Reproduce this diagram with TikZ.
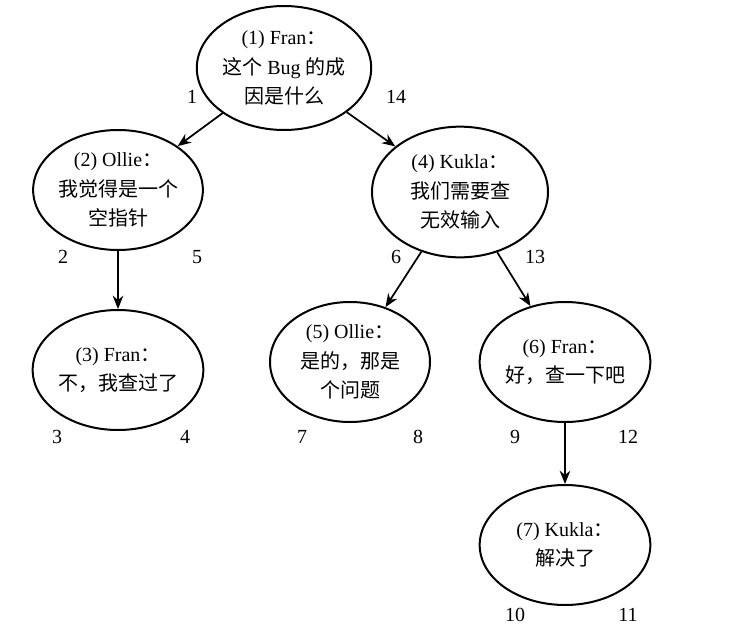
\documentclass[tikz,border=0pt]{standalone}
\usepackage{fontspec}
\setmainfont{Liberation Serif}
\newfontfamily\cjk{Noto Sans CJK SC}
\usetikzlibrary{shapes.geometric,arrows.meta}
\begin{document}
\begin{tikzpicture}[x=0.75pt,y=-0.75pt,
  el/.style={draw,ellipse,line width=1.5pt,align=center,font=\fontsize{15}{22}\selectfont,inner sep=0pt},
  num/.style={font=\fontsize{15}{16}\selectfont},
  arr/.style={line width=1.3pt,-{Stealth[length=10pt,width=8pt]}}]
\useasboundingbox (0,0) rectangle (732,632);
\node[el,minimum width=120pt,minimum height=93pt] (n1) at (284,68) {(1) Fran{\cjk ：}\\{\cjk 这个} Bug {\cjk 的成}\\{\cjk 因是什么}};
\node[el,minimum width=123pt,minimum height=90pt] (n2) at (118,190) {(2) Ollie{\cjk ：}\\{\cjk 我觉得是一个}\\{\cjk 空指针}};
\node[el,minimum width=128pt,minimum height=90pt] (n3) at (118,370) {(3) Fran{\cjk ：}\\{\cjk 不，我查过了}};
\node[el,minimum width=132pt,minimum height=98pt] (n4) at (460,192) {(4) Kukla{\cjk ：}\\{\cjk 我们需要查}\\{\cjk 无效输入}};
\node[el,minimum width=120pt,minimum height=90pt] (n5) at (350,362) {(5) Ollie{\cjk ：}\\{\cjk 是的，那是}\\{\cjk 个问题}};
\node[el,minimum width=128pt,minimum height=90pt] (n6) at (565,362) {(6) Fran{\cjk ：}\\{\cjk 好，查一下吧}};
\node[el,minimum width=128pt,minimum height=90pt] (n7) at (565,545) {(7) Kukla{\cjk ：}\\{\cjk 解决了}};
\draw[arr] (n1) -- (n2);
\draw[arr] (n1) -- (n4);
\draw[arr] (n2) -- (n3);
\draw[arr] (n4) -- (n5);
\draw[arr] (n4) -- (n6);
\draw[arr] (n6) -- (n7);
\node[num] (l1) at (192,97) {1};
\node[num] (l14) at (396,97) {14};
\node[num] (l2) at (63,257) {2};
\node[num] (l5) at (197,257) {5};
\node[num] (l3) at (57,437) {3};
\node[num] (l4) at (185,437) {4};
\node[num] (l6) at (396,257) {6};
\node[num] (l13) at (535,257) {13};
\node[num] (l7) at (302,437) {7};
\node[num] (l8) at (418,437) {8};
\node[num] (l9) at (515,437) {9};
\node[num] (l12) at (628,437) {12};
\node[num] (l10) at (515,615) {10};
\node[num] (l11) at (628,615) {11};
\end{tikzpicture}
\end{document}
